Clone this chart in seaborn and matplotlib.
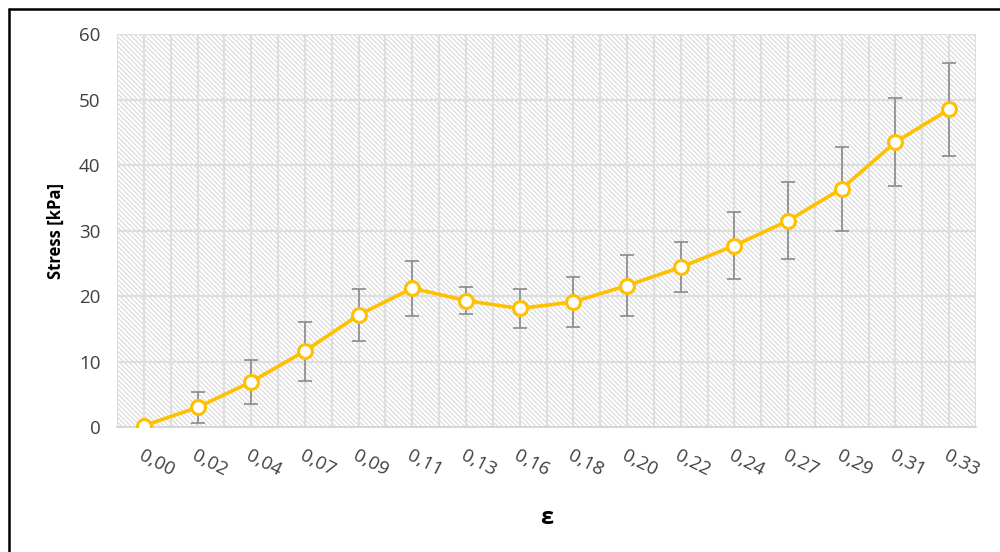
import numpy as np
import pandas as pd
import matplotlib
matplotlib.use("Agg")
import matplotlib.pyplot as plt
import seaborn as sns
from matplotlib.patches import Rectangle
from matplotlib.lines import Line2D

# strain categories, mean stress and standard deviation (kPa)
strain = ["0,00", "0,02", "0,04", "0,07", "0,09", "0,11", "0,13", "0,16",
          "0,18", "0,20", "0,22", "0,24", "0,27", "0,29", "0,31", "0,33"]
stress = [0.2, 3.0, 6.9, 11.6, 17.1, 21.2, 19.3, 18.1,
          19.1, 21.6, 24.4, 27.7, 31.5, 36.4, 43.5, 48.5]
stress_sd = [0.0, 2.35, 3.4, 4.5, 3.9, 4.2, 2.05, 3.0,
             3.85, 4.6, 3.8, 5.1, 5.85, 6.4, 6.7, 7.05]

sns.set_theme(style="white")
plt.rcParams['font.family'] = ['Open Sans', 'DejaVu Sans']
plt.rcParams['hatch.color'] = '#d9d9d9'
plt.rcParams['hatch.linewidth'] = 0.8

df = pd.DataFrame({'pos': np.arange(len(strain)), 'strain': strain,
                   'stress': stress, 'sd': stress_sd})

fig = plt.figure(figsize=(10, 5.52), dpi=100)
ax = fig.add_axes([0.117, 0.2264, 0.859, 0.712])

# hatched plot area like the Excel pattern fill
ax.add_patch(Rectangle((0, 0), 1, 1, transform=ax.transAxes, facecolor='white',
                       edgecolor='#d9d9d9', hatch='\\' * 7, lw=0, zorder=0))

# gridlines
for y in range(10, 61, 10):
    ax.axhline(y, color='#dedede', lw=1.6, zorder=1)
for x in np.arange(-0.5, len(strain), 0.5):
    ax.axvline(x, color='#dedede', lw=1.6, zorder=1)

# error bars
ax.errorbar(df['pos'], df['stress'], yerr=df['sd'], fmt='none',
            ecolor='#8a8a8a', elinewidth=1.2, capsize=5, capthick=1.2, zorder=3)

sns.lineplot(data=df, x='pos', y='stress', ax=ax, color='#FFC000', lw=2.6,
             marker='o', markersize=10, markerfacecolor='white',
             markeredgecolor='#FFC000', markeredgewidth=2.2, zorder=4)

ax.set_xlim(-0.5, len(strain) - 0.5)
ax.set_ylim(0, 60)
ax.set_yticks(range(0, 61, 10))
ax.set_xticks(df['pos'])
ax.set_xticklabels(strain, rotation=-27, ha='left', va='top',
                   rotation_mode='anchor')
ax.tick_params(axis='y', labelsize=13.5, colors='#404040', length=0, pad=12)
ax.tick_params(axis='x', labelsize=13.5, colors='#404040', length=0, pad=14)

for side in ['top', 'right', 'left']:
    ax.spines[side].set_visible(False)
ax.spines['bottom'].set_color('#d0d0d0')
ax.spines['bottom'].set_linewidth(1.2)

ax.set_ylabel('Stress [kPa]', fontsize=12, fontweight='bold', color='black',
              labelpad=10)
ax.set_xlabel('ε', fontsize=17, fontweight='bold', color='black')
ax.xaxis.set_label_coords(0.5, -0.2)

# outer chart frame (cropped at right and bottom)
fig.add_artist(Line2D([0.0085, 0.0085], [0, 0.984], transform=fig.transFigure,
                      color='black', lw=1.8))
fig.add_artist(Line2D([0.0085, 1.0], [0.984, 0.984], transform=fig.transFigure,
                      color='black', lw=1.8))

fig.savefig('out.png', dpi=100)
